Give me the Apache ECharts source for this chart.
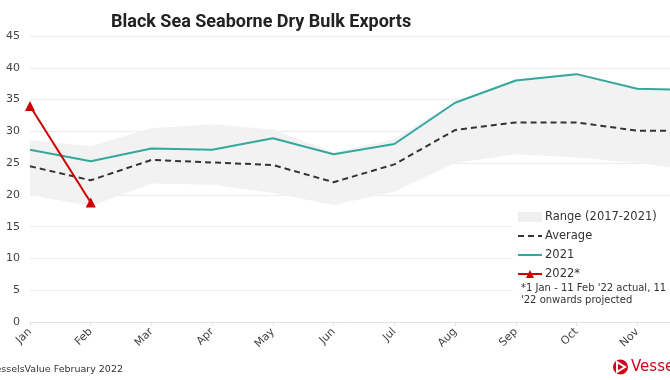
<!DOCTYPE html>
<html><head><meta charset="utf-8">
<script src="https://cdn.jsdelivr.net/npm/echarts@6/dist/echarts.min.js"></script>
<style>html,body{margin:0;padding:0;background:#fff}#c{width:670px;height:380px}</style>
</head><body><div id="c"></div>
<script>
const months = ['Jan','Feb','Mar','Apr','May','Jun','Jul','Aug','Sep','Oct','Nov','Dec'];
const rangeLow  = [20.0, 18.2, 21.8, 21.6, 20.3, 18.4, 20.5, 25.0, 26.4, 25.9, 25.0, 23.8];
const rangeHigh = [28.6, 27.7, 30.5, 31.1, 30.3, 26.7, 28.8, 34.6, 38.2, 39.2, 36.8, 36.6];
const average   = [24.5, 22.3, 25.5, 25.1, 24.7, 22.0, 24.8, 30.2, 31.4, 31.4, 30.1, 30.1];
const y2021     = [27.1, 25.3, 27.3, 27.1, 28.9, 26.4, 28.0, 34.5, 38.0, 39.0, 36.7, 36.5];
const y2022     = [34.0, 18.8];
const yTicks    = [0, 45, 5];
const titleText = 'Black Sea Seaborne Dry Bulk Exports';
const footnote  = "*1 Jan - 11 Feb '22 actual, 11 Feb\n'22 onwards projected";
const sourceText = 'Source: VesselsValue February 2022';

const chart = echarts.init(document.getElementById('c'), null, {renderer:'canvas'});
const FONT = 'DejaVu Sans, Verdana, sans-serif';
const bandDiff = rangeHigh.map((v,i)=> +(v - rangeLow[i]).toFixed(2));
chart.setOption({
  animation:false,
  backgroundColor:'#fff',
  title:{text:titleText,left:106,top:8,textStyle:{fontFamily:'Roboto, sans-serif',fontWeight:'bold',fontSize:18,color:'#222'}},
  grid:{left:30,width:668,top:36,height:286,containLabel:false,outerBoundsMode:'none'},
  xAxis:{type:'category',data:months,boundaryGap:false,
    axisLine:{lineStyle:{color:'#e3e3e3',width:1}},
    axisTick:{show:true,length:4,lineStyle:{color:'#e3e3e3'}},
    axisLabel:{rotate:45,fontFamily:FONT,fontSize:11,color:'#444',margin:8},
    splitLine:{show:false}},
  yAxis:{type:'value',min:yTicks[0],max:yTicks[1],interval:yTicks[2],
    axisLine:{show:false},axisTick:{show:false},
    axisLabel:{fontFamily:FONT,fontSize:11,color:'#444',margin:10},
    splitLine:{lineStyle:{color:'#ececec',width:1}}},
  legend:{orient:'vertical',left:517,top:211,padding:0,itemGap:7,itemWidth:24,itemHeight:10,z:60,
    textStyle:{fontFamily:FONT,fontSize:11.5,color:'#333',padding:[0,0,0,-2]},
    data:[{name:'Range (2017-2021)',icon:'rect',itemStyle:{color:'#efefef'}},
          {name:'Average',itemStyle:{opacity:0}},
          {name:'2021',itemStyle:{opacity:0}},
          {name:'2022*'}]},
  graphic:[
    {type:'rect',shape:{x:513,y:203,width:170,height:108},style:{fill:'#fff'},z:50},
    {type:'text',left:521,top:282,z:60,style:{text:footnote,font:'10px '+FONT,fill:'#333',lineHeight:12}},
    {type:'text',x:123,y:370,z:60,style:{text:sourceText,font:'9.5px '+FONT,fill:'#333',textAlign:'right',textVerticalAlign:'middle'}},
    {type:'circle',shape:{cx:620.5,cy:367,r:7.5},style:{fill:'#d0021b'},z:60},
    {type:'polygon',shape:{points:[[617,362],[617,372],[625,367]]},style:{fill:'none',stroke:'#fff',lineWidth:2},z:61},
    {type:'text',x:631,y:367,z:60,style:{text:'VesselsValue',font:'15px '+FONT,fill:'#d0021b',textVerticalAlign:'middle'}}
  ],
  series:[
    {name:'rangeLow',type:'line',data:rangeLow,stack:'band',symbol:'none',lineStyle:{opacity:0},silent:true,z:1},
    {name:'Range (2017-2021)',type:'line',data:bandDiff,stack:'band',symbol:'none',lineStyle:{opacity:0},areaStyle:{color:'#f2f2f2',opacity:1},itemStyle:{color:'#efefef'},z:1},
    {name:'Average',type:'line',data:average,symbol:'none',lineStyle:{color:'#333',width:2,type:[6,4]},itemStyle:{color:'#333'},z:3},
    {name:'2021',type:'line',data:y2021,symbol:'none',lineStyle:{color:'#34a89e',width:2},itemStyle:{color:'#34a89e'},z:4},
    {name:'2022*',type:'line',data:y2022,symbol:'triangle',symbolSize:10,lineStyle:{color:'#cc0000',width:2},itemStyle:{color:'#cc0000'},z:5}
  ]
});
</script></body></html>
